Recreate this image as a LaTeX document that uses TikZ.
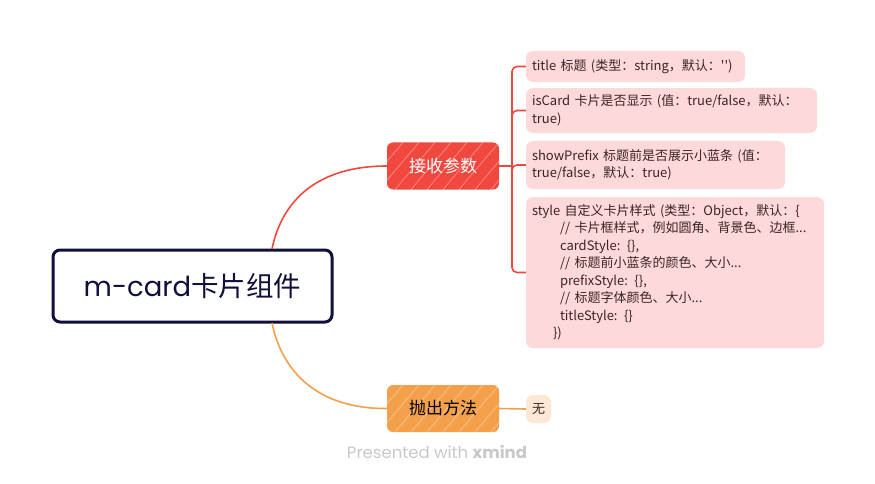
\documentclass[tikz,border=0pt]{standalone}
\usepackage{fontspec}
\setmainfont{Noto Sans CJK SC}
\newfontfamily\cjk{Noto Sans CJK SC}
\newfontfamily\titlefont{Poppins}
\definecolor{navy}{HTML}{10103A}
\definecolor{redb}{HTML}{F0473F}
\definecolor{orangeb}{HTML}{F4A04B}
\definecolor{leafred}{HTML}{FDD9D9}
\definecolor{leaforange}{HTML}{FDE8D6}
\definecolor{leaftext}{HTML}{3D2424}
\definecolor{wm}{HTML}{C9C9C9}
\tikzset{
  mainbox/.style={draw=navy, line width=3pt, rounded corners=7pt, fill=white,
    minimum width=279pt, minimum height=72pt, font=\fontsize{27.5}{31}\selectfont, text=navy},
  branchbox/.style={rounded corners=6pt, minimum width=112pt, minimum height=47pt,
    font=\cjk\fontsize{17}{20}\selectfont},
  leafbox/.style={rounded corners=7pt, fill=leafred, inner xsep=6pt, inner ysep=0pt,
    align=left, anchor=center, text=leaftext, font=\cjk\fontsize{13}{17.5}\selectfont},
  redline/.style={draw=redb, line width=1.6pt},
  orangeline/.style={draw=orangeb, line width=1.6pt},
}
\begin{document}
\begin{tikzpicture}[x=1pt,y=-1pt]
\useasboundingbox (0,0) rectangle (875,484);
\fill[white] (0,0) rectangle (875,484);

% main node
\node[mainbox] (main) at (192.5,286) {{\titlefont m-card}{\cjk 卡片组件}};

% branch nodes
\node[branchbox, fill=redb] (b1) at (443,166) {};
\node[branchbox, fill=orangeb] (b2) at (443,408.5) {};

% hatch effect on branch boxes
\foreach \n in {b1, b2}{
  \begin{scope}
    \clip[rounded corners=6pt] (\n.south west) rectangle (\n.north east);
    \foreach \k in {0,16,...,160}{
      \draw[white, opacity=0.35, line width=0.8pt] ([xshift=\k pt-40pt]\n.south west) -- ++(40,-47);
    }
  \end{scope}
}
\node[branchbox, text=white] (t1) at (b1) {接收参数};
\node[branchbox, text=black] (t2) at (b2) {抛出方法};

% leaves
\node[leafbox, minimum width=219pt, minimum height=31pt, text width=207pt] (l1) at (635.5,66.5)
  {title 标题 (类型：string，默认：'')};
\node[leafbox, minimum width=291pt, minimum height=45pt, text width=279pt] (l2) at (671.5,110.5)
  {isCard 卡片是否显示 (值：true/false，默认：\\true)};
\node[leafbox, minimum width=259pt, minimum height=48pt, text width=247pt] (l3) at (655.5,165)
  {showPrefix 标题前是否展示小蓝条 (值：\\true/false，默认：true)};
\node[leafbox, minimum width=298pt, minimum height=151pt, text width=286pt] (l4) at (675,272.5)
  {style 自定义卡片样式 (类型：Object，默认：\{\\
  \hspace*{28pt}// 卡片框样式，例如圆角、背景色、边框...\\
  \hspace*{28pt}cardStyle: \{\},\\
  \hspace*{28pt}// 标题前小蓝条的颜色、大小...\\
  \hspace*{28pt}prefixStyle: \{\},\\
  \hspace*{28pt}// 标题字体颜色、大小...\\
  \hspace*{28pt}titleStyle: \{\}\\
  \hspace*{21pt}\})};
\node[leafbox, fill=leaforange, inner xsep=0pt, minimum width=25pt, minimum height=28pt] (l5) at (538.5,409) {无};

% connectors main -> branches
\coordinate (m1) at (272,249);
\coordinate (m2) at (272,323);
\draw[redline] (m1) .. controls (282,200) and (318,166) .. (b1.west);
\draw[orangeline] (m2) .. controls (282,372) and (318,409) .. (b2.west);

% bracket for red branch
\coordinate (j1) at (512,166);
\draw[redline] (b1.east) -- (j1);
\foreach \l in {l1,l2,l3,l4}{
  \draw[redline, rounded corners=5pt] (j1) |- (\l.west);
}
\draw[orangeline] (b2.east) -- (l5.west);

% watermark
\node[text=wm, font=\titlefont\fontsize{16.5}{18}\selectfont] (wmk) at (437,452) {Presented with \textbf{xmind}};
\end{tikzpicture}
\end{document}
